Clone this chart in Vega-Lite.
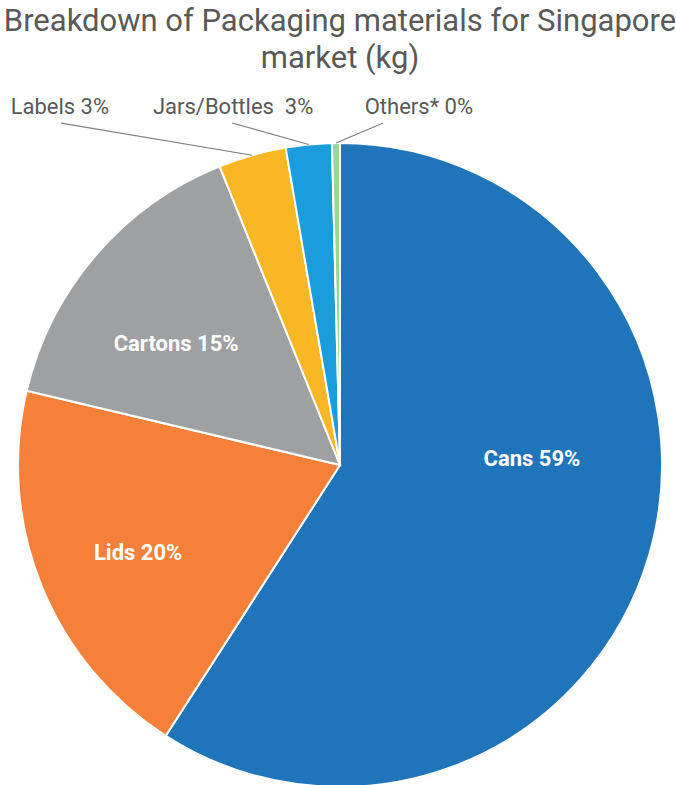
{
  "$schema": "https://vega.github.io/schema/vega-lite/v6.json",
  "width": 644,
  "height": 644,
  "autosize": {"type": "none"},
  "padding": {"left": 18, "top": 143, "right": 14, "bottom": 0},
  "background": "white",
  "config": {"view": {"stroke": null}},
  "title": {
    "text": ["Breakdown of Packaging materials for Singapore", "market (kg)"],
    "fontSize": 31,
    "font": "Roboto",
    "fontWeight": "normal",
    "color": "#595959",
    "lineHeight": 37,
    "anchor": "middle",
    "offset": 21
  },
  "data": {
    "values": [
      {"cat": "Cans", "value": 59.1, "order": 1, "label": "Cans 59%"},
      {"cat": "Lids", "value": 19.6, "order": 2, "label": "Lids 20%"},
      {"cat": "Cartons", "value": 15.2, "order": 3, "label": "Cartons 15%"},
      {"cat": "Labels", "value": 3.4, "order": 4, "label": "Labels 3%"},
      {"cat": "Jars/Bottles", "value": 2.3, "order": 5, "label": "Jars/Bottles\u00a0 3%"},
      {"cat": "Others*", "value": 0.4, "order": 6, "label": "Others* 0%"}
    ]
  },
  "transform": [
    {"joinaggregate": [{"op": "sum", "field": "value", "as": "total"}]},
    {"window": [{"op": "sum", "field": "value", "as": "cum"}], "sort": [{"field": "order"}], "frame": [null, 0]},
    {"calculate": "2*PI*(datum.cum - datum.value/2)/datum.total", "as": "mid"},
    {"calculate": "sin(datum.mid)", "as": "sx"},
    {"calculate": "cos(datum.mid)", "as": "sy"}
  ],
  "layer": [
    {
      "mark": {"type": "arc", "stroke": "white", "strokeWidth": 2},
      "encoding": {
        "theta": {"field": "value", "type": "quantitative", "stack": true},
        "order": {"field": "order", "type": "quantitative"},
        "color": {
          "field": "cat",
          "type": "nominal",
          "scale": {
            "domain": ["Cans", "Lids", "Cartons", "Labels", "Jars/Bottles", "Others*"],
            "range": ["#1F74BA", "#F4803A", "#9FA0A2", "#FBB625", "#1A9DDA", "#9DD49B"]
          },
          "legend": null
        }
      }
    },
    {
      "transform": [{"filter": "datum.cat == 'Labels'"}],
      "mark": {"type": "rule", "color": "#7F7F7F", "strokeWidth": 1.2},
      "encoding": {
        "x": {"field": "sx", "type": "quantitative", "scale": {"domain": [-1, 1], "nice": false, "zero": false}, "axis": null},
        "y": {"field": "sy", "type": "quantitative", "scale": {"domain": [-1, 1], "nice": false, "zero": false}, "axis": null},
        "x2": {"datum": -0.866},
        "y2": {"datum": 1.062}
      }
    },
    {
      "transform": [{"filter": "datum.cat == 'Jars/Bottles'"}],
      "mark": {"type": "rule", "color": "#7F7F7F", "strokeWidth": 1.2},
      "encoding": {
        "x": {"field": "sx", "type": "quantitative", "scale": {"domain": [-1, 1], "nice": false, "zero": false}, "axis": null},
        "y": {"field": "sy", "type": "quantitative", "scale": {"domain": [-1, 1], "nice": false, "zero": false}, "axis": null},
        "x2": {"datum": -0.335},
        "y2": {"datum": 1.062}
      }
    },
    {
      "transform": [{"filter": "datum.cat == 'Others*'"}],
      "mark": {"type": "rule", "color": "#7F7F7F", "strokeWidth": 1.2},
      "encoding": {
        "x": {"field": "sx", "type": "quantitative", "scale": {"domain": [-1, 1], "nice": false, "zero": false}, "axis": null},
        "y": {"field": "sy", "type": "quantitative", "scale": {"domain": [-1, 1], "nice": false, "zero": false}, "axis": null},
        "x2": {"datum": 0.134},
        "y2": {"datum": 1.062}
      }
    },
    {
      "transform": [{"filter": "datum.cat == 'Labels'"}],
      "mark": {"type": "text", "font": "Roboto", "fontSize": 22, "color": "#595959", "align": "center", "baseline": "middle"},
      "encoding": {
        "x": {"datum": -0.870, "type": "quantitative"},
        "y": {"datum": 1.112, "type": "quantitative"},
        "text": {"field": "label"}
      }
    },
    {
      "transform": [{"filter": "datum.cat == 'Jars/Bottles'"}],
      "mark": {"type": "text", "font": "Roboto", "fontSize": 22, "color": "#595959", "align": "center", "baseline": "middle"},
      "encoding": {
        "x": {"datum": -0.332, "type": "quantitative"},
        "y": {"datum": 1.112, "type": "quantitative"},
        "text": {"field": "label"}
      }
    },
    {
      "transform": [{"filter": "datum.cat == 'Others*'"}],
      "mark": {"type": "text", "font": "Roboto", "fontSize": 22, "color": "#595959", "align": "center", "baseline": "middle"},
      "encoding": {
        "x": {"datum": 0.245, "type": "quantitative"},
        "y": {"datum": 1.112, "type": "quantitative"},
        "text": {"field": "label"}
      }
    },
    {
      "transform": [{"filter": "datum.cat == 'Cans'"}],
      "mark": {"type": "text", "font": "Roboto", "fontSize": 22, "fontWeight": "bold", "color": "white", "align": "center", "baseline": "middle"},
      "encoding": {
        "x": {"datum": 0.596, "type": "quantitative"},
        "y": {"datum": 0.019, "type": "quantitative"},
        "text": {"field": "label"}
      }
    },
    {
      "transform": [{"filter": "datum.cat == 'Lids'"}],
      "mark": {"type": "text", "font": "Roboto", "fontSize": 22, "fontWeight": "bold", "color": "white", "align": "center", "baseline": "middle"},
      "encoding": {
        "x": {"datum": -0.627, "type": "quantitative"},
        "y": {"datum": -0.273, "type": "quantitative"},
        "text": {"field": "label"}
      }
    },
    {
      "transform": [{"filter": "datum.cat == 'Cartons'"}],
      "mark": {"type": "text", "font": "Roboto", "fontSize": 22, "fontWeight": "bold", "color": "white", "align": "center", "baseline": "middle"},
      "encoding": {
        "x": {"datum": -0.509, "type": "quantitative"},
        "y": {"datum": 0.376, "type": "quantitative"},
        "text": {"field": "label"}
      }
    }
  ]
}
